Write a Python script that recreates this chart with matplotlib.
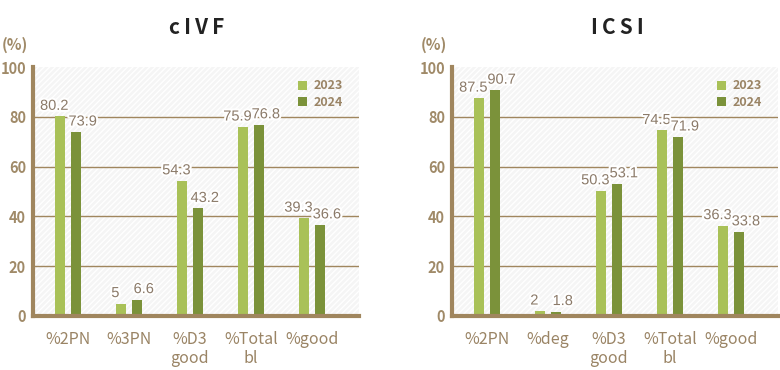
import matplotlib
matplotlib.use("Agg")
import matplotlib.pyplot as plt
import matplotlib.patheffects as pe
from matplotlib.patches import Rectangle
import numpy as np

# ---- data ----
years = ["2023", "2024"]
civf_categories = ["%2PN", "%3PN", "%D3\ngood", "%Total\nbl", "%good"]
civf_2023 = [80.2, 5, 54.3, 75.9, 39.3]
civf_2024 = [73.9, 6.6, 43.2, 76.8, 36.6]
icsi_categories = ["%2PN", "%deg", "%D3\ngood", "%Total\nbl", "%good"]
icsi_2023 = [87.5, 2, 50.3, 74.5, 36.3]
icsi_2024 = [90.7, 1.8, 53.1, 71.9, 33.8]
y_ticks = [0, 20, 40, 60, 80, 100]
titles = ["cIVF", "ICSI"]

# ---- style ----
C23 = "#a9c158"
C24 = "#7b923a"
BROWN = "#a0865e"
TICKC = "#a08a68"
CATC = "#9a8465"
VALC = "#8b7a69"
CJK = ["Noto Sans CJK JP", "DejaVu Sans"]

fig = plt.figure(figsize=(7.8, 3.7), dpi=100)
fig.patch.set_facecolor("white")

panels = [
    (civf_categories, civf_2023, civf_2024, titles[0], 33),
    (icsi_categories, icsi_2023, icsi_2024, titles[1], 452),
]

W, H = 780.0, 370.0
for cats, v23, v24, title, left_px in panels:
    ax = fig.add_axes([left_px / W, 54 / H, 326 / W, 249 / H])
    ax.set_facecolor("#f5f5f5")
    ax.add_patch(Rectangle((0, 0), 1, 1, transform=ax.transAxes,
                           facecolor="none", edgecolor="white",
                           hatch="//////", linewidth=0, zorder=0))
    x = np.arange(len(cats))
    bw = 0.165
    off = 0.13
    ax.bar(x - off, v23, bw, color=C23, label=years[0], zorder=3)
    ax.bar(x + off, v24, bw, color=C24, label=years[1], zorder=3)
    halo = [pe.withStroke(linewidth=3, foreground="white")]
    for xi, v in zip(x, v23):
        ax.annotate(f"{v:g}", (xi - off, v), xytext=(-4, 2.5),
                    textcoords="offset points", ha="center", va="bottom",
                    fontsize=10.5, color=VALC, family="Liberation Sans",
                    path_effects=halo, zorder=5)
    for xi, v in zip(x, v24):
        ax.annotate(f"{v:g}", (xi + off, v), xytext=(5, 2.5),
                    textcoords="offset points", ha="center", va="bottom",
                    fontsize=10.5, color=VALC, family="Liberation Sans",
                    path_effects=halo, zorder=6)

    ax.set_xlim(-0.57, 4.77)
    ax.set_ylim(0, 100)
    ax.set_yticks(y_ticks)
    ax.set_yticklabels([str(t) for t in y_ticks], fontsize=10.5,
                       fontweight="bold", color=TICKC, family=CJK)
    ax.set_xticks(x)
    ax.set_xticklabels(cats, fontsize=11.5, color=CATC, family=CJK,
                       linespacing=1.1)
    ax.tick_params(axis="both", length=0)
    ax.tick_params(axis="y", pad=5)
    ax.tick_params(axis="x", pad=11)
    for yv in y_ticks[1:-1]:
        ax.axhline(yv, color=BROWN, linewidth=1.0, zorder=1)
    for s in ["top", "right"]:
        ax.spines[s].set_visible(False)
    for s in ["left", "bottom"]:
        ax.spines[s].set_color(BROWN)
        ax.spines[s].set_linewidth(3)
        ax.spines[s].set_zorder(4)

    leg = ax.legend(loc="upper right", bbox_to_anchor=(0.97, 0.975),
                    frameon=False, handlelength=0.75, handleheight=0.75,
                    handletextpad=0.5, labelspacing=0.25, borderpad=0,
                    prop={"family": CJK, "size": 9, "weight": "bold"})
    for t in leg.get_texts():
        t.set_color(CATC)

    cx = (left_px + 163) / W
    fig.text(cx + (1 / W if title == "cIVF" else 2 / W), 1 - 27 / H,
             "\u2009".join(title), ha="center", va="center",
             fontsize=15, fontweight="bold", color="#222222", family=CJK)
    fig.text((left_px - 18) / W, 1 - 45 / H, "(%)", ha="center",
             va="center", fontsize=11, fontweight="bold", color=TICKC,
             family=CJK)

fig.savefig("out.png", dpi=100, facecolor="white")
